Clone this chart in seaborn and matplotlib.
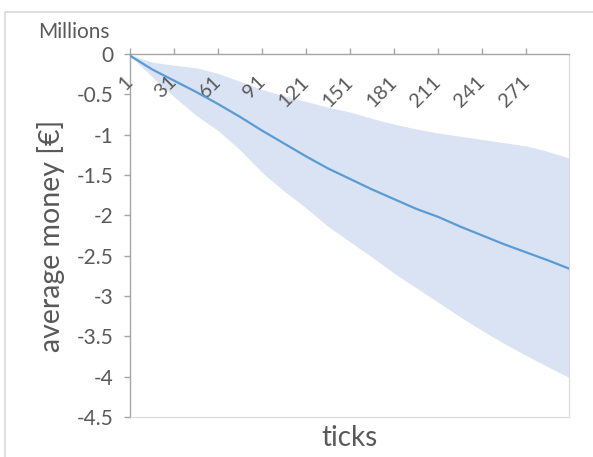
import numpy as np
import pandas as pd
import matplotlib
matplotlib.use("Agg")
import matplotlib.pyplot as plt
import seaborn as sns
from matplotlib.patches import Rectangle

# ---- data (millions of €) ----
tick_steps = [1, 16, 31, 46, 61, 76, 91, 106, 121, 136, 151, 166, 181, 196, 211, 226, 241, 256, 271, 286, 300]
mean_money = [-0.02, -0.19, -0.33, -0.47, -0.62, -0.78, -0.95, -1.11, -1.27, -1.42, -1.55,
              -1.68, -1.80, -1.92, -2.02, -2.14, -2.25, -2.36, -2.46, -2.56, -2.66]
upper_money = [-0.01, -0.10, -0.14, -0.17, -0.24, -0.34, -0.44, -0.52, -0.59, -0.66, -0.72,
               -0.80, -0.87, -0.93, -0.98, -1.02, -1.06, -1.10, -1.14, -1.21, -1.29]
lower_money = [-0.02, -0.28, -0.53, -0.76, -0.95, -1.19, -1.47, -1.70, -1.91, -2.14, -2.33,
               -2.52, -2.72, -2.90, -3.08, -3.26, -3.43, -3.59, -3.74, -3.88, -4.01]
x_tick_values = [1, 31, 61, 91, 121, 151, 181, 211, 241, 271]
x_tick_labels = ["1", "31", "61", "91", "121", "151", "181", "211", "241", "271"]
y_tick_values = [0, -0.5, -1, -1.5, -2, -2.5, -3, -3.5, -4, -4.5]
y_tick_labels = ["0", "-0.5", "-1", "-1.5", "-2", "-2.5", "-3", "-3.5", "-4", "-4.5"]

df = pd.DataFrame({"tick": tick_steps, "mean": mean_money,
                   "upper": upper_money, "lower": lower_money})

sns.set_theme(style="white")
plt.rcParams["font.family"] = ["Lato", "DejaVu Sans"]

TEXT = "#595959"
AXIS = "#A6A6A6"
LINE = "#5B9BD5"
BAND = "#DAE3F3"

W, H = 593, 457
fig = plt.figure(figsize=(W / 100, H / 100), dpi=100)
ax = fig.add_axes([130 / W, 1 - 417 / H, (569 - 130) / W, (417 - 54) / H])
ax.set_axisbelow(False)

ax.fill_between(df["tick"], df["lower"], df["upper"], color=BAND, linewidth=0, zorder=1)
sns.lineplot(data=df, x="tick", y="mean", ax=ax, color=LINE, linewidth=1.6, zorder=3)

ax.set_xlim(1, 300)
ax.set_ylim(-4.5, 0)

# spines
for s in ["left", "top"]:
    ax.spines[s].set_color(AXIS)
    ax.spines[s].set_linewidth(1.0)
for s in ["right", "bottom"]:
    ax.spines[s].set_color("#D9D9D9")
    ax.spines[s].set_linewidth(0.8)

ax.set_yticks(y_tick_values)
ax.set_yticklabels(y_tick_labels)
ax.tick_params(axis="y", direction="out", length=4, width=1, color=AXIS,
               labelcolor=TEXT, labelsize=15, pad=8, left=True)

ax.set_xticks(x_tick_values)
ax.set_xticklabels(x_tick_labels)
ax.tick_params(axis="x", top=True, bottom=False, labeltop=True, labelbottom=False,
               direction="out", length=4, width=1, color=AXIS,
               labelcolor=TEXT, labelsize=14.5, pad=-22)
for lab in ax.get_xticklabels(which="both"):
    lab.set_rotation(45)
    lab.set_rotation_mode("anchor")
    lab.set_ha("right")
    lab.set_va("center")

ax.set_xlabel("ticks", fontsize=20, color=TEXT, labelpad=6)
ax.set_ylabel("average money [€]", fontsize=20.5, color=TEXT, labelpad=8)
ax.grid(False)

fig.text(110 / W, 1 - 31.5 / H, "Millions", ha="right", va="center",
         fontsize=15, color=TEXT)

# outer chart border (left and top visible)
fig.patches.append(Rectangle((5 / W, -0.05), 1.0, 1 - 12 / H + 0.05,
                             transform=fig.transFigure, fill=False,
                             edgecolor="#D9D9D9", linewidth=1.2))

fig.savefig("out.png", dpi=100)
